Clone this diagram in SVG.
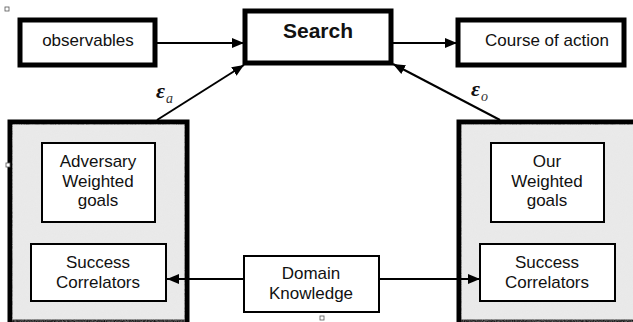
<svg xmlns="http://www.w3.org/2000/svg" width="633" height="322" viewBox="0 0 633 322">
<defs>
<marker id="ah" markerWidth="12" markerHeight="10" refX="12" refY="5" orient="auto" markerUnits="userSpaceOnUse">
<path d="M0,0 L12,5 L0,10 z" fill="#000"/>
</marker>
<filter id="spk" x="0" y="0" width="1" height="1">
<feTurbulence type="fractalNoise" baseFrequency="0.9" numOctaves="2" seed="3" result="n"/>
<feColorMatrix in="n" type="matrix" values="0 0 0 0 0.84  0 0 0 0 0.84  0 0 0 0 0.84  0 0 0 -1.2 1.1" result="c"/>
<feComposite in="c" in2="SourceGraphic" operator="in"/>
</filter>
</defs>
<style>
.t{font-family:"Liberation Sans",Arial,sans-serif;font-size:17px;fill:#111;text-anchor:middle}
.b{font-weight:bold;font-size:21px}
.thick{fill:#fff;stroke:#000;stroke-width:5}
.big{fill:#e8e8e8;stroke:#000;stroke-width:5}
.thin{fill:#fff;stroke:#000;stroke-width:2}
.c{stroke:#000;stroke-width:2;fill:none}
.e{font-family:"Liberation Serif","Times New Roman",serif;font-style:italic;font-weight:bold;font-size:22px;fill:#111}
.s{font-family:"Liberation Serif","Times New Roman",serif;font-style:italic;font-size:14px;fill:#333}
.h{fill:#fff;stroke:#555;stroke-width:0.8}
</style>
<rect width="633" height="322" fill="#fff"/>
<g id="adversary-panel">
<rect class="big" x="10" y="122" width="177" height="200"/>
<rect x="12" y="124" width="173" height="198" fill="#fff" filter="url(#spk)" opacity="0.5"/>
</g>
<g id="our-panel">
<rect class="big" x="459" y="122" width="180" height="200"/>
<rect x="461" y="124" width="176" height="198" fill="#fff" filter="url(#spk)" opacity="0.5"/>
</g>
<g id="observables">
<rect class="thick" x="20" y="20" width="135" height="45"/>
<text class="t" x="88" y="46">observables</text>
</g>
<g id="search">
<rect class="thick" x="245" y="11" width="146" height="52"/>
<text class="t b" x="318" y="38">Search</text>
</g>
<g id="course">
<rect class="thick" x="458" y="20" width="166" height="45"/>
<text class="t" x="547" y="46">Course of action</text>
</g>
<g id="adv-goals">
<rect class="thin" x="42" y="143" width="113" height="79"/>
<text class="t" x="98" y="167">Adversary</text>
<text class="t" x="98" y="187">Weighted</text>
<text class="t" x="98" y="206">goals</text>
</g>
<g id="adv-success">
<rect class="thin" x="31" y="244" width="135" height="57"/>
<text class="t" x="98" y="268">Success</text>
<text class="t" x="98" y="288">Correlators</text>
</g>
<g id="our-goals">
<rect class="thin" x="491" y="143" width="113" height="79"/>
<text class="t" x="547" y="167">Our</text>
<text class="t" x="547" y="187">Weighted</text>
<text class="t" x="547" y="206">goals</text>
</g>
<g id="our-success">
<rect class="thin" x="480" y="244" width="135" height="57"/>
<text class="t" x="547" y="268">Success</text>
<text class="t" x="547" y="288">Correlators</text>
</g>
<g id="domain">
<rect class="thin" x="244" y="256" width="135" height="56"/>
<text class="t" x="311" y="279">Domain</text>
<text class="t" x="311" y="299">Knowledge</text>
</g>
<g id="connectors">
<line class="c" x1="157" y1="43" x2="244" y2="43" marker-end="url(#ah)"/>
<line class="c" x1="393" y1="43" x2="457" y2="43" marker-end="url(#ah)"/>
<line class="c" x1="157" y1="120" x2="244" y2="65" marker-end="url(#ah)"/>
<line class="c" x1="500" y1="120" x2="393" y2="64" marker-end="url(#ah)"/>
<line class="c" x1="244" y1="279" x2="167" y2="279" marker-end="url(#ah)"/>
<line class="c" x1="379" y1="279" x2="480" y2="279" marker-end="url(#ah)"/>
<text class="e" x="156" y="98">ε</text><text class="s" x="166" y="103">a</text>
<text class="e" x="471" y="96">ε</text><text class="s" x="481" y="101">o</text>
</g>
<rect class="h" x="5" y="7" width="4" height="4"/>
<rect class="h" x="6" y="163" width="4" height="4"/>
<rect class="h" x="320" y="316" width="4" height="4"/>
</svg>
